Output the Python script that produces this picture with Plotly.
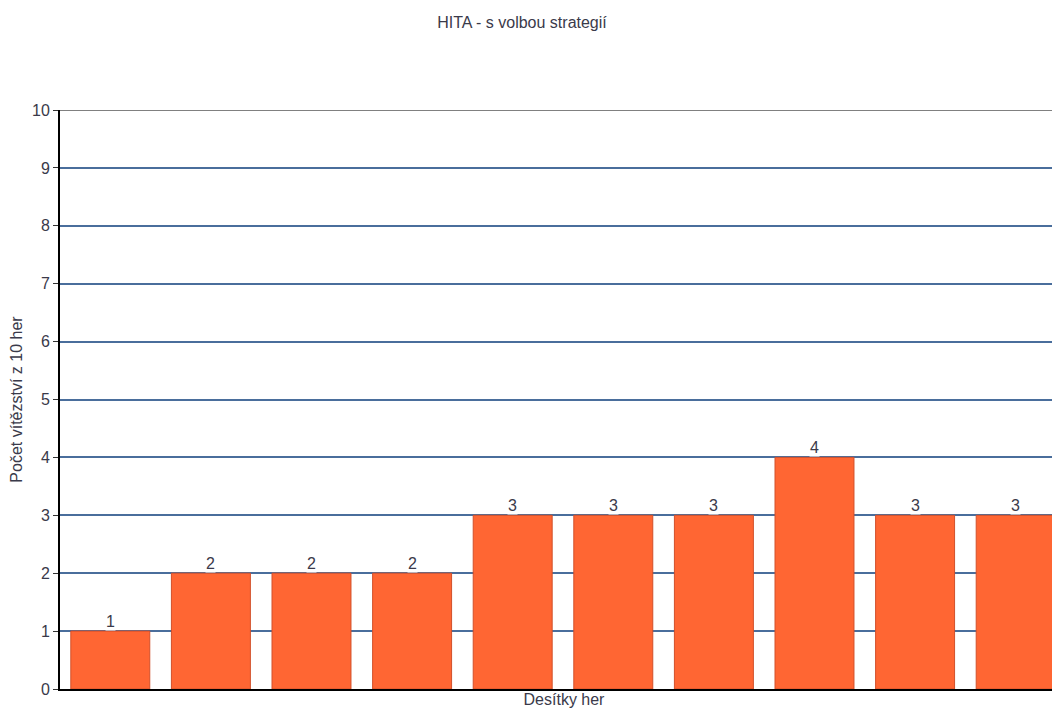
import plotly.graph_objects as go

categories = ["1", "2", "3", "4", "5", "6", "7", "8", "9", "10"]
wins = [1, 2, 2, 2, 3, 3, 3, 4, 3, 3]
y_ticks = list(range(0, 11))

title_text = "HITA - s volbou strategií"
x_title = "Desítky her"
y_title = "Počet vítězství z 10 her"

font_family = "Liberation Sans, Arial, sans-serif"
txt_color = "#3a3a4a"

fig = go.Figure()
fig.add_trace(go.Bar(
    x=list(range(len(categories))),
    y=wins,
    marker=dict(color="#ff6633", line=dict(color="#d2502a", width=1)),
    hoverinfo="skip",
))

for i, v in enumerate(wins):
    fig.add_annotation(
        x=i, y=v, xref="x", yref="y", text=str(v), showarrow=False,
        yanchor="bottom", yshift=0, bgcolor="white", borderpad=0,
        font=dict(family=font_family, size=16, color=txt_color),
    )

fig.update_layout(
    width=1060, height=701,
    margin=dict(l=52, r=0, t=102, b=20),
    paper_bgcolor="white", plot_bgcolor="white",
    showlegend=False,
    bargap=0.215,
    title=dict(text=title_text, x=514 / 1060, xanchor="center", y=1 - 14 / 701, yanchor="middle",
               font=dict(family=font_family, size=16, color=txt_color)),
    font=dict(family=font_family, size=16, color=txt_color),
)

fig.update_xaxes(
    range=[-0.5, 9.52],
    showticklabels=False, ticks="",
    showgrid=False, zeroline=False,
    showline=True, linecolor="black", linewidth=2,
    automargin=False,
    title=dict(text=x_title, standoff=4, font=dict(family=font_family, size=16, color=txt_color)),
)
fig.update_yaxes(
    range=[0, 10],
    tickvals=y_ticks,
    ticks="outside", ticklen=5, tickcolor="#333333",
    showgrid=True, gridcolor="#4a6e9c", gridwidth=1.5,
    zeroline=False,
    showline=True, linecolor="black", linewidth=2,
    automargin=False,
    tickfont=dict(family=font_family, size=16, color=txt_color),
    title=dict(text=y_title, standoff=12, font=dict(family=font_family, size=16, color=txt_color)),
)

fig.add_shape(type="line", xref="paper", yref="y", x0=0, x1=1, y0=10, y1=10,
              line=dict(color="#808080", width=2))

fig.write_html("out.html")
